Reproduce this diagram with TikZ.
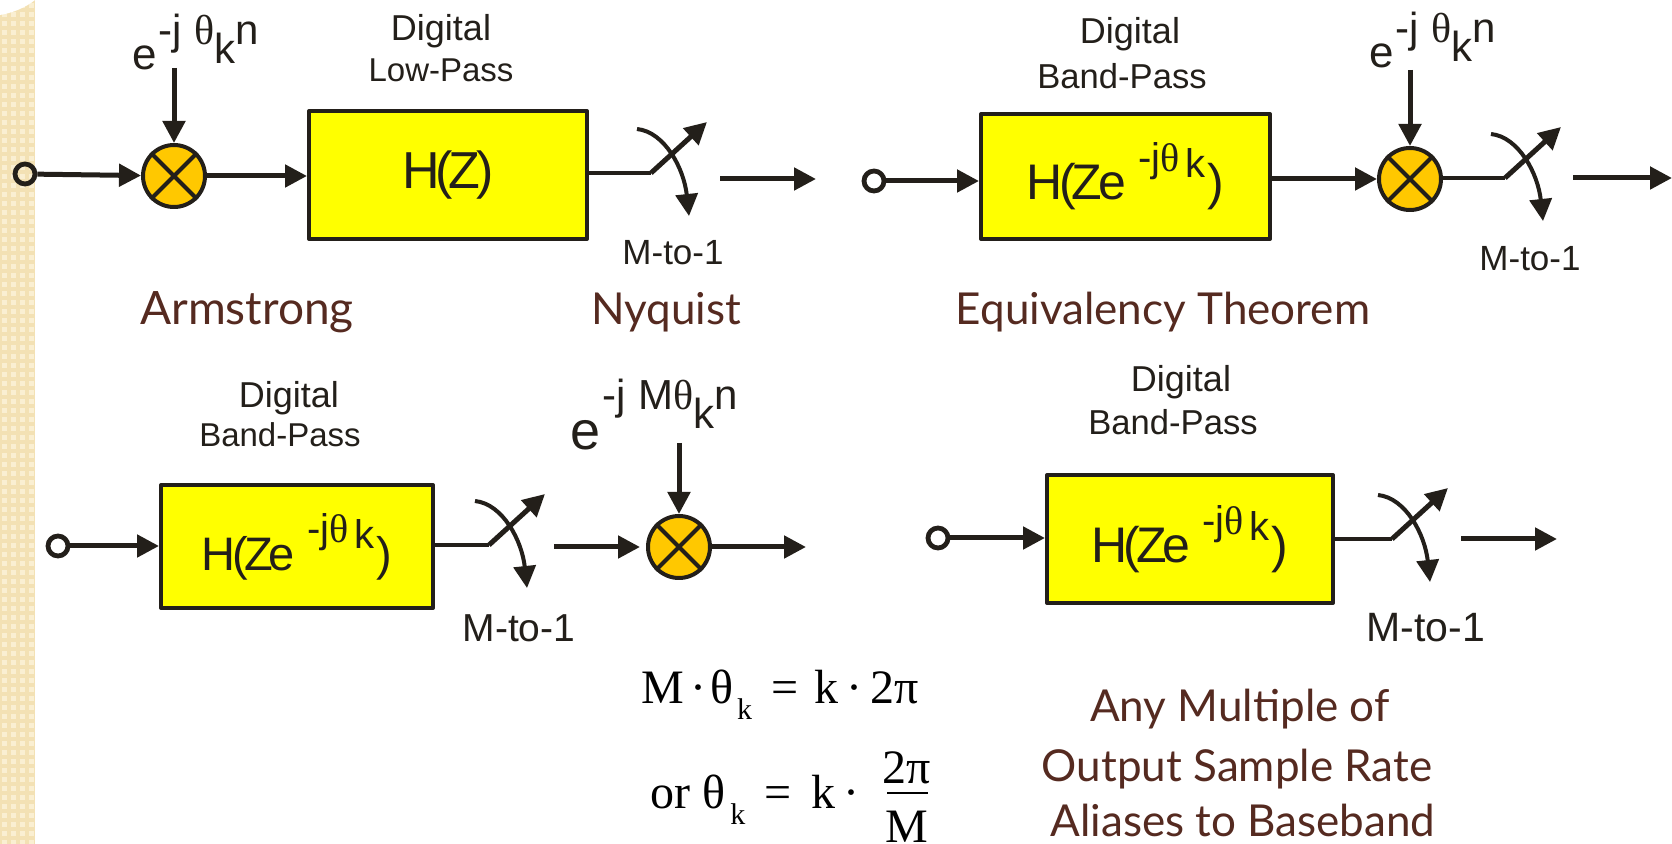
\documentclass[tikz,border=0pt]{standalone}
\usepackage{fontspec}
\setmainfont{Liberation Sans}
\newfontfamily\headfont{Lato}
\newfontfamily\eqfont{Liberation Serif}
\newfontfamily\boxfont[LetterSpace=-8]{Liberation Sans}
\usetikzlibrary{arrows.meta,calc}
\definecolor{bg}{HTML}{FFFFFF}
\definecolor{side}{HTML}{F3E1B4}
\definecolor{sidedot}{HTML}{FAEFD2}
\definecolor{ink}{HTML}{231F1A}
\definecolor{filter}{HTML}{FFFF00}
\definecolor{mixer}{HTML}{FFC800}
\definecolor{head}{HTML}{552A20}
\newcommand{\fsz}[1]{\fontsize{#1}{#1}\selectfont}
\newcommand{\hzek}[1]{\boxfont\fsz{#1}H(Ze\hspace{6pt}\raisebox{14pt}{\normalfont\fsz{20}-j{\eqfont θ}\raisebox{-3pt}{\hspace{3pt}k}}\hspace{1pt})}
\newcommand{\mixexp}[3]{\fsz{#1}e\raisebox{#2}{\fsz{21}\hspace{1pt}-j\hspace{.3em}#3{\eqfont θ}\raisebox{-9.5pt}{k}n}}

\begin{document}
\begin{tikzpicture}[x=0.5pt,y=-0.5pt,line cap=butt,line join=round,
  sig/.style={-{Triangle[length=11pt,width=11pt]},line width=2.5pt,ink},
  wire/.style={line width=2pt,ink},
  port/.style={circle,draw=ink,line width=2.4pt,inner sep=0pt,minimum size=10pt},
  mix/.style={circle,draw=ink,fill=mixer,line width=2pt,inner sep=0pt,minimum size=31pt},
  filt/.style={rectangle,draw=ink,fill=filter,line width=2pt,inner sep=0pt,text=ink},
  blockname/.style={text=ink,inner sep=0pt,font=\fsz{17.3}},
  digitalname/.style={text=ink,inner sep=0pt,font=\fsz{18}},
  decim/.style={text=ink,inner sep=0pt,anchor=base},
  heading/.style={text=head,inner sep=0pt,anchor=base,font=\headfont\fsz{22}},
  eqline/.style={text=black,inner sep=0pt,anchor=base west,font=\eqfont\fsz{24}}]
  \useasboundingbox (0,0) rectangle (1672,844);
  \fill[bg] (0,0) rectangle (1672,844);

  % ---- side strip ----
  \fill[side] (0,0) rectangle (35,844);
  \foreach \i in {0,...,3}
    \foreach \j in {0,...,93}
      \fill[sidedot] (2+9*\i,3+9*\j) rectangle ++(5,5);
  \fill[bg] (0,0) -- (35,0) .. controls (25,8) and (12,13) .. (0,15) -- cycle;

  % ---- top left: mixer then low-pass ----
  \node[port] (in1) at (25,174) {};
  \node[mix] (mix1) at (174,176) {};
  \node[filt,minimum width=139pt,minimum height=64pt] (box1) at (448,175) {\boxfont\fsz{26}H(Z)};
  \node[anchor=base west,inner sep=0pt,text=ink] (exp1) at (132,70) {\mixexp{22}{12.5pt}{}};
  \coordinate (ref1) at (174,68);
  \coordinate (out1) at (816,179);
  \coordinate (out1s) at (720,179);
  \node[digitalname] (name1a) at (441,31) {Digital};
  \node[blockname,font=\fsz{16.5}] (name1b) at (441,70) {Low-Pass};
  \node[decim,font=\fsz{17.5}] (dec1) at (673,265) {M-to-1};
  \draw[sig] (in1) -- (mix1);
  \draw[sig] (mix1.east) -- (mix1.east -| box1.west);
  \draw[sig] (ref1) -- (mix1);
  \draw[sig] (out1s) -- (out1);
  \node[heading,font=\headfont\fsz{23}] (armstrong) at (247,325) {Armstrong};
  \node[heading] (nyquist) at (666,325) {Nyquist};

  % ---- top right: band-pass then mixer ----
  \node[port] (in2) at (874,181) {};
  \node[filt,minimum width=144.5pt,minimum height=62.5pt] (box2) at (1125.5,176.5) {\hzek{25}};
  \node[mix] (mix2) at (1410,179) {};
  \node[anchor=base west,inner sep=0pt,text=ink] (exp2) at (1369,68) {\mixexp{22}{12.5pt}{}};
  \coordinate (ref2) at (1410,70);
  \coordinate (out2) at (1672,178);
  \coordinate (out2s) at (1573,178);
  \node[digitalname] (name2a) at (1130,34) {Digital};
  \node[blockname] (name2b) at (1122,76) {Band-Pass};
  \node[decim,font=\fsz{17.5}] (dec2) at (1530,271) {M-to-1};
  \draw[sig] (in2) -- (in2 -| box2.west);
  \draw[sig] (box2.east |- mix2) -- (mix2);
  \draw[sig] (ref2) -- (mix2);
  \draw[sig] (out2s) -- (out2);
  \node[heading] (equiv) at (1163,325) {Equivalency Theorem};

  % ---- bottom left: band-pass, decimate, mixer ----
  \node[port] (in3) at (58,546) {};
  \node[filt,minimum width=136pt,minimum height=61.5pt] (box3) at (297,546.5) {\hzek{23.5}};
  \node[mix] (mix3) at (679,547) {};
  \node[anchor=base west,inner sep=0pt,text=ink] (exp3) at (570,450) {\mixexp{27}{20pt}{M}};
  \coordinate (ref3) at (679,443);
  \coordinate (out3s) at (554,547);
  \coordinate (out3) at (640,547);
  \coordinate (out3b) at (806,547);
  \node[digitalname] (name3a) at (289,398) {Digital};
  \node[blockname,font=\fsz{16.5}] (name3b) at (280,435) {Band-Pass};
  \node[decim,font=\fsz{19.5}] (dec3) at (519,642) {M-to-1};
  \draw[sig] (in3) -- (in3 -| box3.west);
  \draw[sig] (ref3) -- (mix3);
  \draw[sig] (out3s) -- (out3);
  \draw[sig] (mix3) -- (out3b);

  % ---- bottom right: band-pass, decimate ----
  \node[port] (in4) at (938,538) {};
  \node[filt,minimum width=143pt,minimum height=64pt] (box4) at (1190,539) {\hzek{25}};
  \coordinate (out4s) at (1461,539);
  \coordinate (out4) at (1557,539);
  \node[digitalname] (name4a) at (1181,382) {Digital};
  \node[blockname] (name4b) at (1173,422) {Band-Pass};
  \node[decim,font=\fsz{20.5}] (dec4) at (1426,642) {M-to-1};
  \draw[sig] (in4) -- (in4 -| box4.west);
  \draw[sig] (out4s) -- (out4);

  % ---- mixer crosses ----
  \foreach \m in {mix1,mix2,mix3}{
    \draw[wire] (\m.45) -- (\m.225);
    \draw[wire] (\m.135) -- (\m.315);
  }

  % ---- M-to-1 switches ----
  \foreach \i/\px/\py/\src in {1/651/173/box1,2/1505/178/mix2,3/489/545/box3,4/1392/539/box4}{
    \coordinate (sw\i) at (\px,\py);
    \coordinate (sw\i tip) at ($(sw\i)+(56,-51)$);
    \coordinate (sw\i a) at ($(sw\i)+(-14,-44)$);
    \coordinate (sw\i b) at ($(sw\i)+(38,43)$);
    \draw[wire] (\src.east |- sw\i) -- (sw\i);
    \draw[sig] (sw\i) -- (sw\i tip);
    \draw[sig,line width=2pt] (sw\i a) .. controls +(28,3) and +(-5,-47) .. (sw\i b);
  }

  % ---- equations ----
  \node[eqline] (eq1) at (641,704) {M\hspace{3pt}·\hspace{2pt}θ\hspace{2pt}\raisebox{-8pt}{\fsz{15}k}\hspace{9.5pt}=\hspace{8pt}k\hspace{4pt}·\hspace{4pt}2π};
  \node[eqline] (eq2) at (650,808) {or\hspace{6pt}θ\hspace{2.5pt}\raisebox{-8pt}{\fsz{15}k}\hspace{9.5pt}=\hspace{10pt}k\hspace{4pt}·};
  \coordinate (fracl) at (887,793);
  \coordinate (fracr) at (928,793);
  \draw[black,line width=1pt] (fracl) -- (fracr);
  \node[eqline,anchor=base] (eq3) at (907,783) {2π};
  \node[eqline,anchor=base] (eq4) at (907,842) {M};

  % ---- closing note ----
  \node[heading] (note1) at (1240,721) {Any Multiple of};
  \node[heading] (note2) at (1237,781) {Output Sample Rate};
  \node[heading] (note3) at (1243,836) {Aliases to Baseband};
\end{tikzpicture}
\end{document}
